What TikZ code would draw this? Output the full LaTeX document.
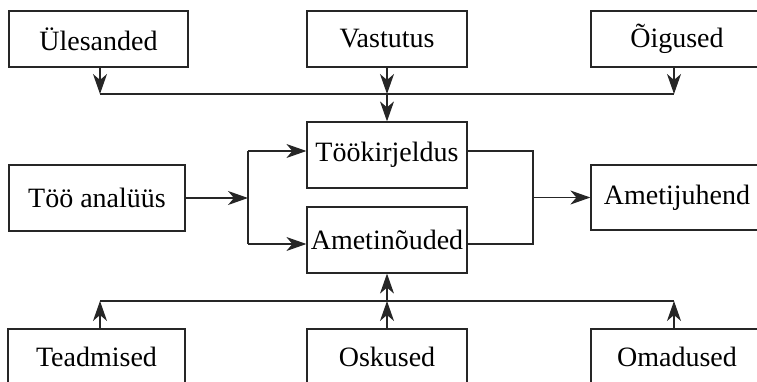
\documentclass[tikz,border=0pt]{standalone}
\usepackage{fontspec}
\setmainfont{Liberation Serif}
\usetikzlibrary{arrows.meta}
\begin{document}
\begin{tikzpicture}[x=1pt,y=-1pt,
  box/.style={draw=black!85,line width=1.2pt,inner sep=0pt,minimum width=#1,
    font=\fontsize{28}{34}\selectfont},
  box/.default=160,
  line/.style={draw=black!85,line width=1.2pt},
  arr/.style={line,-{Stealth[length=20pt,width=14pt,inset=6pt]}}]
\useasboundingbox (0,0) rectangle (757,382);
\node[box=179,minimum height=56] (ul) at (98.5,39) {Ülesanded};
\node[box=160,minimum height=56] (va) at (387,39) {Vastutus};
\node[box=172,minimum height=56] (oi) at (677,39) {Õigused};
\node[box=160,minimum height=66] (tk) at (387,155) {Töökirjeldus};
\node[box=160,minimum height=66] (an) at (387,240) {Ametinõuded};
\node[box=176,minimum height=66] (ta) at (97,198) {Töö analüüs};
\node[box=172,minimum height=65] (aj) at (677,197.5) {Ametijuhend};
\node[box=177,minimum height=56] (te) at (96.5,357) {Teadmised};
\node[box=160,minimum height=56] (os) at (387,357) {Oskused};
\node[box=172,minimum height=56] (om) at (677,357) {Omadused};
% top junction
\coordinate (jt) at (387,94);
\coordinate (jtl) at (100,94);
\coordinate (jtr) at (674,94);
\draw[arr] (ul.south -| jtl) -- (jtl);
\draw[arr] (va.south) -- (jt);
\draw[arr] (oi.south -| jtr) -- (jtr);
\draw[line] (jtl) -- (jtr);
\draw[arr] (jt) -- (tk.north);
% bottom junction
\coordinate (jb) at (387,301);
\coordinate (jbl) at (100,301);
\coordinate (jbr) at (674,301);
\draw[arr] (te.north -| jbl) -- (jbl);
\draw[arr] (os.north) -- (jb);
\draw[arr] (om.north -| jbr) -- (jbr);
\draw[line] (jbl) -- (jbr);
\draw[arr] (jb) -- (an.south);
% left split
\coordinate (sl) at (248,198);
\coordinate (slt) at (248,151);
\coordinate (slb) at (248,244);
\draw[arr] (ta.east) -- (sl);
\draw[line] (slt) -- (slb);
\draw[arr] (slt) -- (tk.west |- slt);
\draw[arr] (slb) -- (an.west |- slb);
% right merge
\coordinate (mr) at (533,197.5);
\coordinate (mrt) at (533,151);
\coordinate (mrb) at (533,244);
\draw[line] (tk.east |- mrt) -- (mrt) -- (mrb) -- (an.east |- mrb);
\draw[arr] (mr) -- (aj.west);
\end{tikzpicture}
\end{document}
